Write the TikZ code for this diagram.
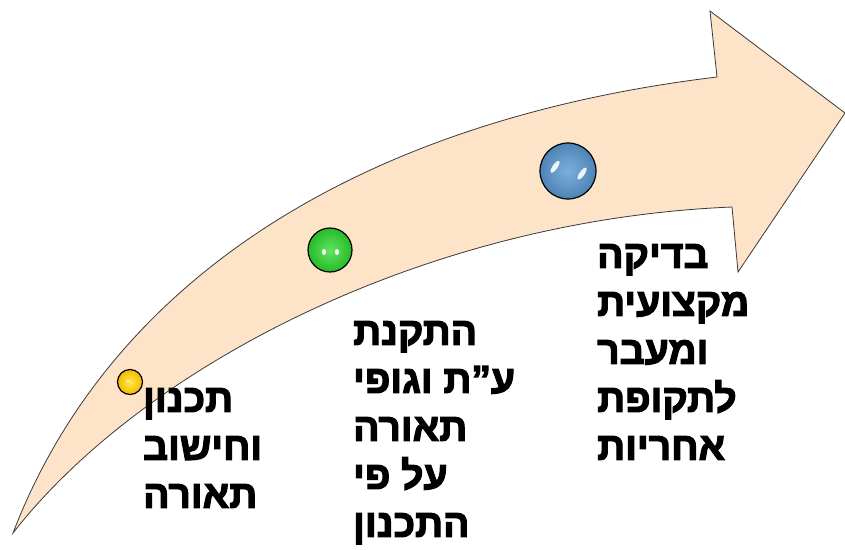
\documentclass[tikz,border=0pt]{standalone}
\usepackage{fontspec}
\newfontfamily\hebfont[Script=Hebrew, FakeBold=3]{Liberation Sans Bold}
\TeXXeTstate=1
\definecolor{peach}{HTML}{FDE3C8}
\definecolor{edge}{HTML}{3A3A3A}
\definecolor{ballorange}{HTML}{F5B800}
\definecolor{ballgreen}{HTML}{2EDB2E}
\definecolor{ballblue}{HTML}{5B9BD5}
\tikzset{
  ballnode/.style={circle, draw=black, line width=1.2pt, inner sep=0pt},
  hebtext/.style={anchor=north west, align=left, inner sep=0pt,
    font=\hebfont\fontsize{39}{48}\selectfont},
  glint/.style={fill=white, draw=none, opacity=0.9}
}
\begin{document}
\begin{tikzpicture}[x=1pt,y=-1pt]
\useasboundingbox (0,0) rectangle (845,549);
\draw[edge, line width=0.8pt, fill=peach, line join=miter]
  (13,533) .. controls (110,280) and (360,120) .. (717,77)
  -- (710,11) -- (845,113) -- (738,272) -- (732,207)
  .. controls (420,220) and (140,370) .. (13,533) -- cycle;
\node[ballnode, inner color=ballorange!40!yellow!70!white, outer color=ballorange, minimum size=25pt] (b1) at (130,382) {};
\node[ballnode, inner color=ballgreen!75!white, outer color=ballgreen!85!black, minimum size=44pt] (b2) at (330,250) {};
\node[ballnode, inner color=ballblue!80!white, outer color=ballblue!85!black, minimum size=56pt] (b3) at (568,171) {};
\fill[glint] ([xshift=-6pt,yshift=-2pt]b2.center) ellipse [x radius=2.2pt, y radius=3pt];
\fill[glint] ([xshift=7pt,yshift=-2pt]b2.center) ellipse [x radius=2.2pt, y radius=3pt];
\fill[glint, rotate around={-35:([xshift=-13pt,yshift=-4pt]b3.center)}] ([xshift=-13pt,yshift=-4pt]b3.center) ellipse [x radius=2.5pt, y radius=7pt];
\fill[glint, rotate around={-35:([xshift=13pt,yshift=6pt]b3.center)}] ([xshift=13pt,yshift=6pt]b3.center) ellipse [x radius=2.5pt, y radius=7pt];
\fill[glint] ([xshift=-2pt,yshift=1pt]b1.center) ellipse [x radius=1.5pt, y radius=1pt];
\node[hebtext] (t1) at (143,388) {\beginR תכנון\endR\\\beginR וחישוב\endR\\\beginR תאורה\endR};
\node[hebtext] (t2) at (353,321) {\beginR התקנת\endR\\\beginR ע”ת וגופי\endR\\\beginR תאורה\endR\\\beginR על פי\endR\\\beginR התכנון\endR};
\node[hebtext] (t3) at (597,244) {\beginR בדיקה\endR\\\beginR מקצועית\endR\\\beginR ומעבר\endR\\\beginR לתקופת\endR\\\beginR אחריות\endR};
\end{tikzpicture}
\end{document}
